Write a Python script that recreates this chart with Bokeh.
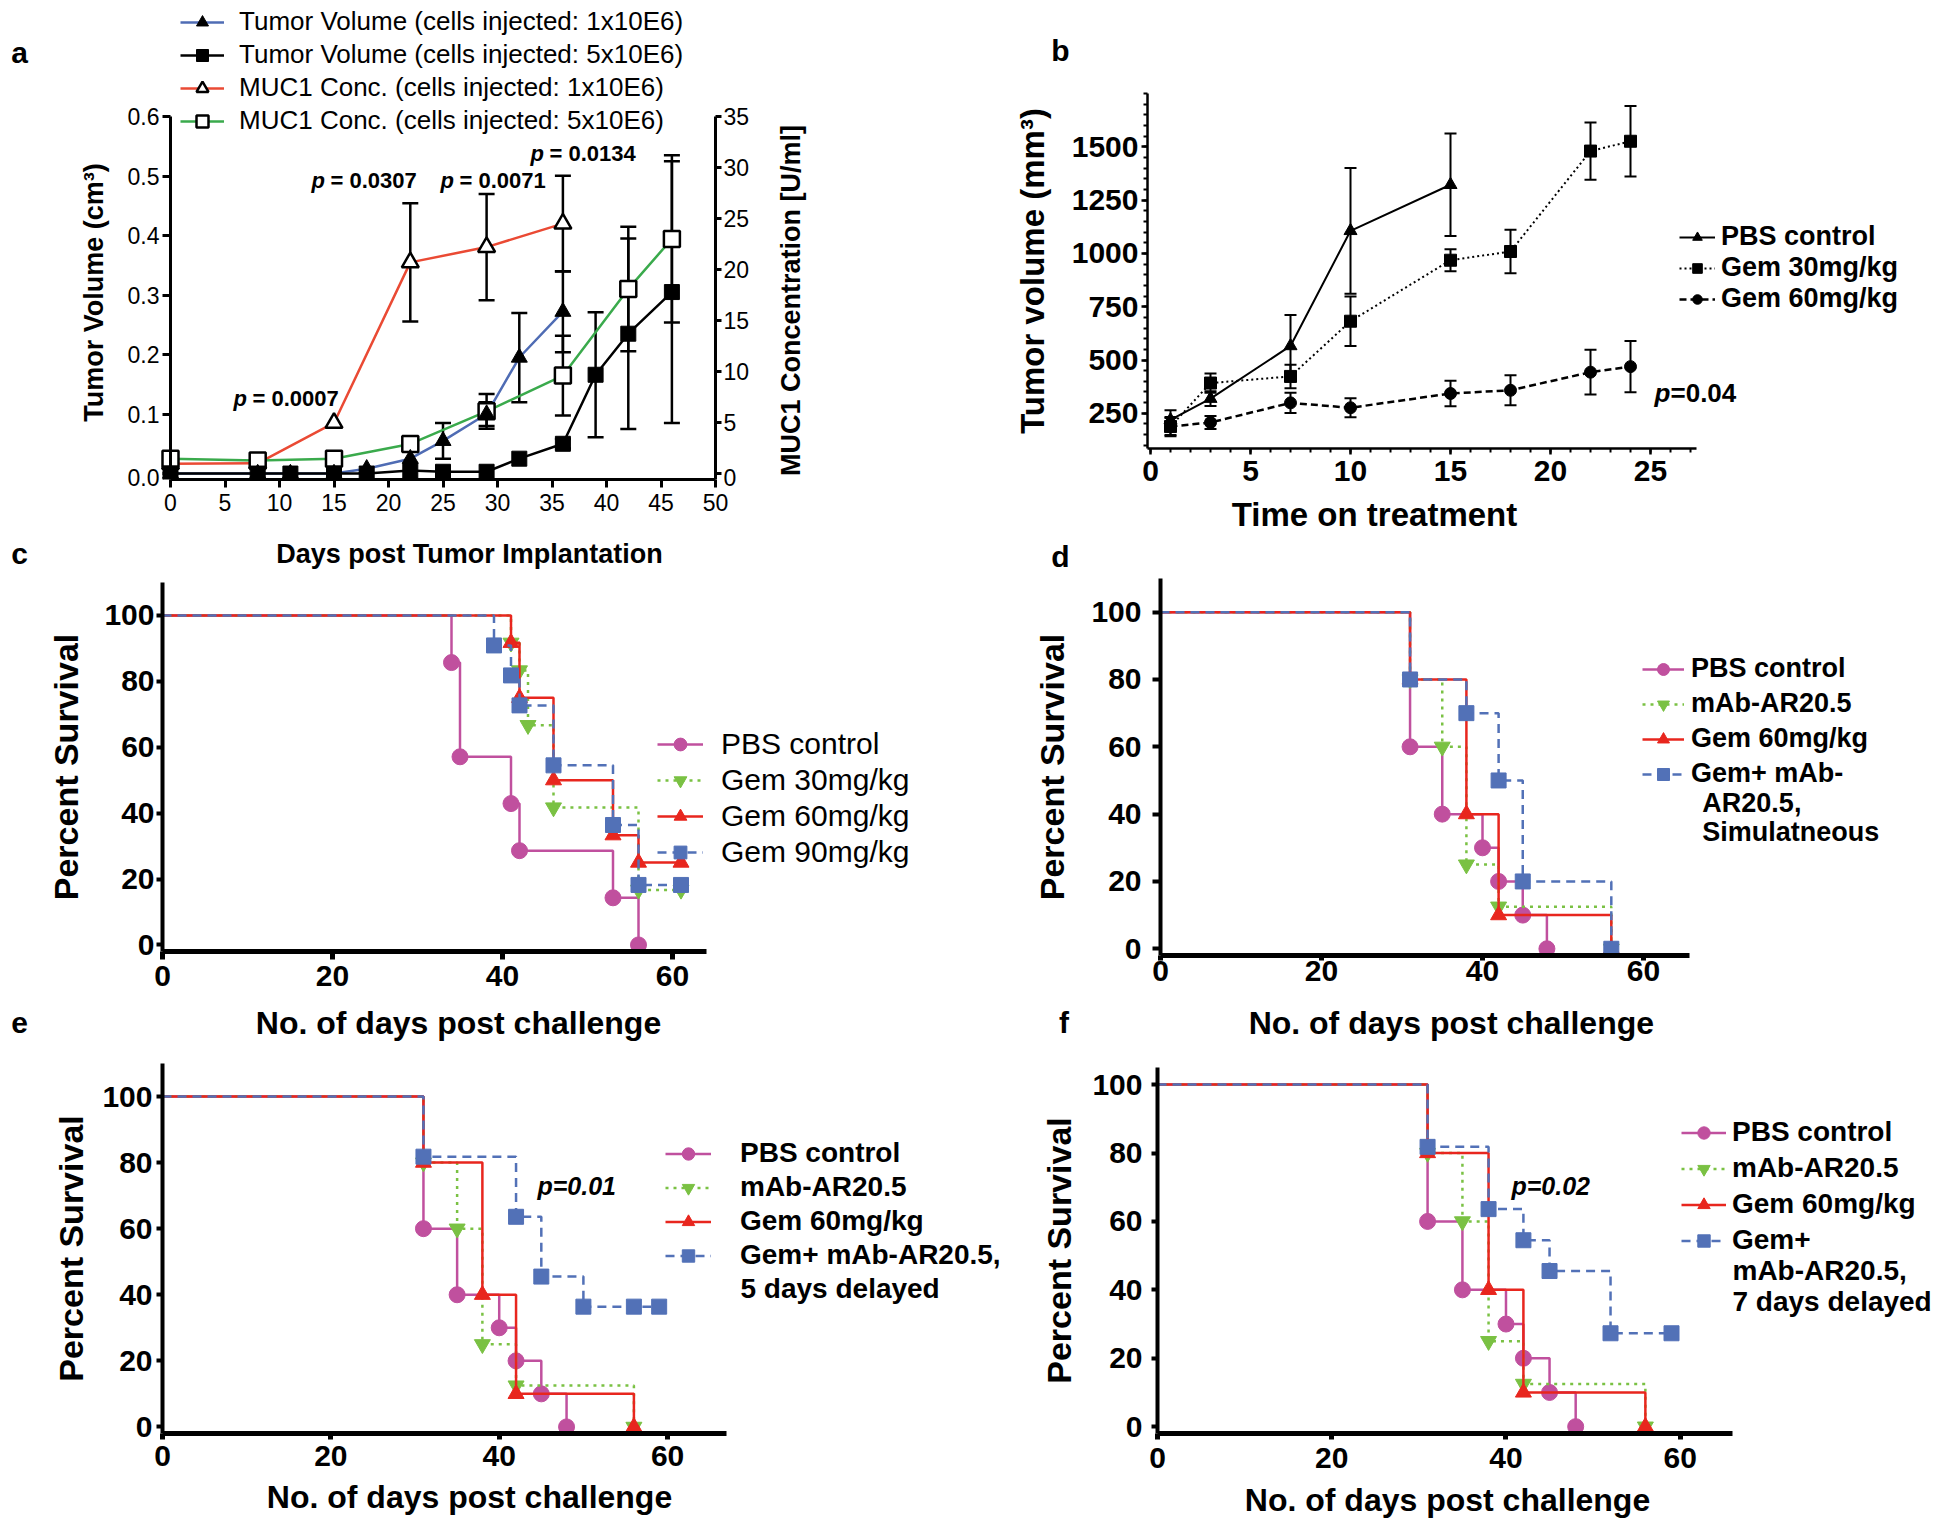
import math
from bokeh.plotting import figure
from bokeh.models import (Range1d, LinearAxis, FixedTicker, NumeralTickFormatter, Whisker,
                          TeeHead, ColumnDataSource, Legend, LegendItem, Label)
from bokeh.layouts import column, row
from bokeh.embed import file_html
from bokeh.resources import INLINE

SANS = "'Liberation Sans', Arial, sans-serif"

# ======================= DATA =======================
# ---- panel a (tumour volume in cm3, MUC1 in U/ml) ----
a_tv1_days = [0, 8, 11, 15, 18, 22, 25, 29, 32, 36]
a_tv1 = [0.0, 0.0, 0.0, 0.0, 0.008, 0.025, 0.055, 0.100, 0.195, 0.272]
a_tv1_err = [0, 0, 0, 0, 0, 0, 0.030, 0.020, 0.075, 0.068]
a_tv5_days = [0, 8, 11, 15, 18, 22, 25, 29, 32, 36, 39, 42, 46]
a_tv5 = [0.0, 0.0, 0.0, 0.0, 0.0, 0.005, 0.003, 0.003, 0.025, 0.050, 0.166, 0.235, 0.305]
a_tv5_err = [0, 0, 0, 0, 0, 0, 0, 0, 0, 0.008, 0.105, 0.160, 0.220]
a_muc1_days = [0, 8, 15, 22, 29, 36]
a_muc1 = [0.95, 1.0, 4.96, 20.7, 22.2, 24.5]
a_muc1_err = [0, 0, 0, 5.8, 5.2, 4.7]
a_muc5_days = [0, 8, 15, 22, 29, 36, 42, 46]
a_muc5 = [1.46, 1.28, 1.46, 2.9, 6.1, 9.6, 18.1, 23.0]
a_muc5_err = [0, 0, 0, 0.4, 1.7, 3.9, 6.1, 8.2]
a_xticks = [0, 5, 10, 15, 20, 25, 30, 35, 40, 45, 50]
a_yticks = [0.0, 0.1, 0.2, 0.3, 0.4, 0.5, 0.6]
a_rticks = [0, 5, 10, 15, 20, 25, 30, 35]
a_labels = ["Tumor Volume (cells injected: 1x10E6)", "Tumor Volume (cells injected: 5x10E6)",
            "MUC1 Conc. (cells injected: 1x10E6)", "MUC1 Conc. (cells injected: 5x10E6)"]

# ---- panel b (tumour volume mm3) ----
b_pbs_days = [1, 3, 7, 10, 15]
b_pbs = [219, 319, 566, 1106, 1322]
b_pbs_err = [45, 35, 145, 295, 240]
b_g30_days = [1, 3, 7, 10, 15, 18, 22, 24]
b_g30 = [188, 392, 423, 682, 968, 1009, 1480, 1526]
b_g30_err = [45, 45, 55, 116, 52, 102, 134, 165]
b_g60_days = [1, 3, 7, 10, 15, 18, 22, 24]
b_g60 = [188, 207, 299, 276, 343, 358, 443, 469]
b_g60_err = [40, 30, 47, 45, 60, 70, 105, 120]
b_xticks = [0, 5, 10, 15, 20, 25]
b_yticks = [250, 500, 750, 1000, 1250, 1500]
b_labels = ["PBS control", "Gem 30mg/kg", "Gem 60mg/kg"]

# ---- panel c (Kaplan-Meier, % survival) ----
c_pbs_days = [0, 34, 35, 41, 42, 53, 56]
c_pbs = [100, 85.7, 57.1, 42.9, 28.6, 14.3, 0]
c_g30_days = [0, 41, 42, 43, 46, 56, 61]
c_g30 = [100, 91.7, 83.3, 66.7, 41.7, 16.7, 16.7]
c_g60_days = [0, 41, 42, 46, 53, 56, 61]
c_g60 = [100, 91.7, 75.0, 50.0, 33.3, 25.0, 25.0]
c_g90_days = [0, 39, 41, 42, 46, 53, 56, 61]
c_g90 = [100, 90.9, 81.8, 72.7, 54.5, 36.4, 18.2, 18.2]
c_labels = ["PBS control", "Gem 30mg/kg", "Gem 60mg/kg", "Gem 90mg/kg"]

# ---- panel d ----
d_pbs_days = [0, 31, 35, 40, 42, 45, 48]
d_pbs = [100, 60, 40, 30, 20, 10, 0]
d_mab_days = [0, 31, 35, 38, 42, 56]
d_mab = [100, 80, 60, 25, 12.5, 0]
d_gem_days = [0, 31, 38, 42, 56]
d_gem = [100, 80, 40, 10, 0]
d_combo_days = [0, 31, 38, 42, 45, 56]
d_combo = [100, 80, 70, 50, 20, 0]

# ---- panel e ----
e_pbs_days = [0, 31, 35, 40, 42, 45, 48]
e_pbs = [100, 60, 40, 30, 20, 10, 0]
e_mab_days = [0, 31, 35, 38, 42, 56]
e_mab = [100, 80, 60, 25, 12.5, 0]
e_gem_days = [0, 31, 38, 42, 56]
e_gem = [100, 80, 40, 10, 0]
e_combo_days = [0, 31, 42, 45, 50, 56, 59]
e_combo = [100, 81.8, 63.6, 45.5, 36.4, 36.4, 36.4]

# ---- panel f ----
f_pbs_days = [0, 31, 35, 40, 42, 45, 48]
f_pbs = [100, 60, 40, 30, 20, 10, 0]
f_mab_days = [0, 31, 35, 38, 42, 56]
f_mab = [100, 80, 60, 25, 12.5, 0]
f_gem_days = [0, 31, 38, 42, 56]
f_gem = [100, 80, 40, 10, 0]
f_combo_days = [0, 31, 38, 42, 45, 52, 59]
f_combo = [100, 81.8, 63.6, 54.5, 45.5, 27.3, 27.3]

km_xticks = [0, 20, 40, 60]
km_yticks = [0, 20, 40, 60, 80, 100]

# ======================= STYLE =======================
BLUE_A, RED_A, GREEN_A = "#4f6cb4", "#ea4a34", "#3aaa4c"
MAG, GRN, RED, BLU = "#c0509e", "#7ac143", "#e8261e", "#5271b7"


def lin(p0, p1, v0, v1, p):
    return v0 + (p - p0) / (p1 - p0) * (v1 - v0)


class Panel:
    """Figure whose plotting frame spans (L..R, T..B) in page pixels; xmap / ymap give
    the page positions of the axis extents (X0, X1, x0, x1) / (Y0, Y1, y0, y1)."""

    def __init__(self, origin, size, frame, xmap, ymap):
        ox, oy = origin
        w, h = size
        L, R, T, B = frame
        X0, X1, x0, x1 = xmap
        Y0, Y1, y0, y1 = ymap
        self.frame = frame
        self.xr = (lin(X0, X1, x0, x1, L), lin(X0, X1, x0, x1, R))
        self.yr = (lin(Y0, Y1, y0, y1, B), lin(Y0, Y1, y0, y1, T))
        p = figure(width=w, height=h, x_range=Range1d(*self.xr), y_range=Range1d(*self.yr),
                   output_backend="svg", toolbar_location=None,
                   min_border_left=L - ox, min_border_right=ox + w - R,
                   min_border_top=T - oy, min_border_bottom=oy + h - B)
        p.frame_align = False
        p.title.visible = False
        p.xgrid.visible = False
        p.ygrid.visible = False
        p.outline_line_color = None
        p.background_fill_color = "white"
        p.border_fill_color = "white"
        p.xaxis.bounds = (x0, x1)
        p.yaxis.bounds = (y0, y1)
        self.p = p

    def data(self, px, py):
        L, R, T, B = self.frame
        return (lin(L, R, self.xr[0], self.xr[1], px), lin(B, T, self.yr[0], self.yr[1], py))

    def text(self, px, py, s, size, style="bold", align="left", place="center", angle=0.0):
        x, y = self.data(px, py)
        lab = Label(x=x, y=y, text=s, text_font=SANS, text_font_size=f"{size}px",
                    text_font_style=style, text_align=align, text_baseline="middle",
                    text_color="black", angle=angle)
        if place == "center":
            self.p.add_layout(lab)
        else:
            self.p.add_layout(lab, place)

    def legend(self, entries, icon_left, bottom, glyph_w, standoff, size, style, spacing,
               glyph_h=28):
        L, R, T, B = self.frame
        items = [LegendItem(label=t, renderers=r) for t, r in entries]
        lg = Legend(items=items, location=(icon_left - L, B - bottom), orientation="vertical",
                    padding=0, margin=0, spacing=spacing, glyph_width=glyph_w,
                    glyph_height=glyph_h, label_standoff=standoff, label_height=10,
                    label_text_font=SANS, label_text_font_size=f"{size}px",
                    label_text_font_style=style, label_text_color="black",
                    border_line_color=None, background_fill_alpha=0)
        self.p.add_layout(lg)


def style_axis(ax, lw, tick_out, standoff, tick_size, tick_style, lab_size=32, lab_standoff=10):
    ax.axis_line_width = lw
    ax.axis_line_color = "black"
    ax.major_tick_line_width = lw
    ax.major_tick_line_color = "black"
    ax.major_tick_out = tick_out
    ax.major_tick_in = 0
    ax.minor_tick_line_color = None
    ax.major_label_standoff = standoff
    ax.major_label_text_font = SANS
    ax.major_label_text_font_size = f"{tick_size}px"
    ax.major_label_text_font_style = tick_style
    ax.major_label_text_color = "black"
    ax.axis_label_text_font = SANS
    ax.axis_label_text_font_size = f"{lab_size}px"
    ax.axis_label_text_font_style = "bold"
    ax.axis_label_text_color = "black"
    ax.axis_label_standoff = lab_standoff


def add_err(p, xs, ys, es, width=2.5, head=16, range_name=None):
    pts = [(x, y - e, y + e) for x, y, e in zip(xs, ys, es) if e > 0]
    src = ColumnDataSource(dict(x=[t[0] for t in pts], lo=[t[1] for t in pts],
                                hi=[t[2] for t in pts]))
    w = Whisker(source=src, base="x", lower="lo", upper="hi", dimension="height",
                line_color="black", line_width=width,
                upper_head=TeeHead(size=head, line_width=width, line_color="black"),
                lower_head=TeeHead(size=head, line_width=width, line_color="black"))
    if range_name:
        w.y_range_name = range_name
    p.add_layout(w)


def km(p, days, surv, color, dash, marker, size=16, lw=2.5):
    l = p.step(days, surv, mode="after", line_color=color, line_width=lw, line_dash=dash)
    m = p.scatter(days[1:], surv[1:], marker=marker, size=size, fill_color=color,
                  line_color=color)
    return [l, m]


# ======================= PANEL a =======================
A = Panel((0, 0), (1010, 572), (60, 890, 0, 479), (170, 715, 0.0, 50.0),
          (479, 116, -0.01, 0.6))
pa = A.p
style_axis(pa.xaxis[0], 3, 8, 6, 23, "normal")
style_axis(pa.yaxis[0], 3, 8, 3, 23, "normal")
pa.yaxis.fixed_location = 0.0
pa.xaxis.ticker = FixedTicker(ticks=a_xticks)
pa.yaxis.ticker = FixedTicker(ticks=a_yticks)
pa.yaxis.formatter = NumeralTickFormatter(format="0.0")
pa.yaxis.major_label_overrides = {0: ""}
muc_scale = 35 / 0.6
pa.extra_y_ranges = {"muc": Range1d(A.yr[0] * muc_scale, A.yr[1] * muc_scale)}
ra = LinearAxis(y_range_name="muc", ticker=FixedTicker(ticks=a_rticks), fixed_location=50,
                bounds=(-0.01 * muc_scale, 35))
style_axis(ra, 3, 6, 2, 23, "normal")
ra.major_label_overrides = {0: ""}
pa.add_layout(ra, "right")
# bottom tick labels of the two y axes (kept out of the frame clip)
A.text(159, 477, "0.0", 23, "normal", "right", place="right")
A.text(723, 477, "0", 23, "normal", "left", place="right")
A.text(93, 292, "Tumor Volume (cm³)", 27, "bold", "center", angle=math.pi / 2)
A.text(790, 300, "MUC1 Concentration [U/ml]", 27, "bold", "center", angle=math.pi / 2)
A.text(469, 553, "Days post Tumor Implantation", 27, "bold", "center", place="below")

add_err(pa, a_muc1_days, a_muc1, a_muc1_err, range_name="muc")
add_err(pa, a_muc5_days, a_muc5, a_muc5_err, range_name="muc")
add_err(pa, a_tv1_days, a_tv1, a_tv1_err)
add_err(pa, a_tv5_days, a_tv5, a_tv5_err)

r1l = pa.line(a_muc1_days, a_muc1, line_color=RED_A, line_width=2.5, y_range_name="muc")
r2l = pa.line(a_muc5_days, a_muc5, line_color=GREEN_A, line_width=2.5, y_range_name="muc")
r3l = pa.line(a_tv1_days, a_tv1, line_color=BLUE_A, line_width=2.5)
r4l = pa.line(a_tv5_days, a_tv5, line_color="black", line_width=2.5)
r1m = pa.scatter(a_muc1_days, a_muc1, marker="triangle", size=17, fill_color="white",
                 line_color="black", line_width=2.5, y_range_name="muc")
r2m = pa.scatter(a_muc5_days, a_muc5, marker="square", size=16, fill_color="white",
                 line_color="black", line_width=2.5, y_range_name="muc")
r3m = pa.scatter(a_tv1_days, a_tv1, marker="triangle", size=16, fill_color="black",
                 line_color="black")
r4m = pa.scatter(a_tv5_days, a_tv5, marker="square", size=15, fill_color="black",
                 line_color="black")
A.legend([(a_labels[0], [r3l, r3m]), (a_labels[1], [r4l, r4m]),
          (a_labels[2], [r1l, r1m]), (a_labels[3], [r2l, r2m])],
         180, 136, 44, 15, 26, "normal", 2, glyph_h=30)

for px, py, s in [(233, 398, "= 0.0007"), (311, 180, "= 0.0307"), (440, 180, "= 0.0071"),
                  (530, 153, "= 0.0134")]:
    A.text(px, py, "p", 22, "bold italic")
    A.text(px + 19, py, s, 22, "bold")
A.text(19, 52, "a", 30, "bold", "center", place="right")
A.text(19, 553, "c", 30, "bold", "center", place="right")

# ======================= PANEL b =======================
Bp = Panel((1010, 0), (940, 572), (1147, 1914, 93, 448), (1147, 1696, -0.15, 27.3),
           (448, 93, 85, 1750))
pb = Bp.p
style_axis(pb.xaxis[0], 2.5, 6, 6, 30, "bold")
style_axis(pb.yaxis[0], 2.5, 6, 3, 30, "bold", 33, 18)
pb.xaxis.ticker = FixedTicker(ticks=b_xticks, minor_ticks=list(range(0, 28)))
pb.yaxis.ticker = FixedTicker(ticks=b_yticks, minor_ticks=list(range(100, 1751, 50)))
for ax in (pb.xaxis[0], pb.yaxis[0]):
    ax.minor_tick_line_color = "black"
    ax.minor_tick_line_width = 2
    ax.minor_tick_out = 4
    ax.minor_tick_in = 0
pb.yaxis.axis_label = "Tumor volume (mm³)"
Bp.text(1374, 514, "Time on treatment", 33, "bold", "center", place="below")

add_err(pb, b_pbs_days, b_pbs, b_pbs_err, width=2, head=12)
add_err(pb, b_g30_days, b_g30, b_g30_err, width=2, head=12)
add_err(pb, b_g60_days, b_g60, b_g60_err, width=2, head=12)
bl1 = pb.line(b_pbs_days, b_pbs, line_color="black", line_width=2)
bl2 = pb.line(b_g30_days, b_g30, line_color="black", line_width=2, line_dash="2 3")
bl3 = pb.line(b_g60_days, b_g60, line_color="black", line_width=2.5, line_dash="7 4")
bm1 = pb.scatter(b_pbs_days, b_pbs, marker="triangle", size=13, color="black")
bm2 = pb.scatter(b_g30_days, b_g30, marker="square", size=12, color="black")
bm3 = pb.scatter(b_g60_days, b_g60, marker="circle", size=12, color="black")
Bp.legend([(b_labels[0], [bl1, bm1]), (b_labels[1], [bl2, bm2]), (b_labels[2], [bl3, bm3])],
          1679, 314, 36, 6, 27, "bold", 0, glyph_h=24)
Bp.text(1654, 392, "p", 26, "bold italic")
Bp.text(1670, 392, "=0.04", 26, "bold")
Bp.text(1060, 50, "b", 30, "bold", "center", place="right")
Bp.text(1060, 556, "d", 30, "bold", "center", place="right")


def km_axes(P, left_out, left_so, left_lab_so, bot_out, bot_so, xlab_pos):
    p = P.p
    style_axis(p.xaxis[0], 5, bot_out, bot_so, 30, "bold")
    style_axis(p.yaxis[0], 4, left_out, left_so, 30, "bold", 34, left_lab_so)
    p.xaxis.ticker = FixedTicker(ticks=km_xticks)
    p.yaxis.ticker = FixedTicker(ticks=km_yticks)
    p.yaxis.axis_label = "Percent Survival"
    P.text(xlab_pos[0], xlab_pos[1], "No. of days post challenge", 32, "bold", "center",
           place="below")


# ======================= PANEL c =======================
C = Panel((0, 572), (1030, 470), (162, 1030, 582, 951), (162, 706, 0, 64), (951, 582, -2, 110))
pc = C.p
km_axes(C, 6, 2, 16, 8, 6, (458, 1022))
cr1 = km(pc, c_pbs_days, c_pbs, MAG, "solid", "circle")
cr2 = km(pc, c_g30_days, c_g30, GRN, "3 5", "inverted_triangle")
cr3 = km(pc, c_g60_days, c_g60, RED, "solid", "triangle")
cr4 = km(pc, c_g90_days, c_g90, BLU, "9 6", "square", size=15)
C.legend(list(zip(c_labels, [cr1, cr2, cr3, cr4])), 657, 869, 46, 18, 30, "normal", 2,
         glyph_h=32)
C.text(19, 1022, "e", 30, "bold", "center", place="left")

# ======================= PANEL d =======================
D = Panel((1030, 572), (920, 470), (1157, 1914, 578, 955), (1157, 1688, 0, 65.7),
          (955, 578, -2, 110))
pd_ = D.p
km_axes(D, 8, 11, 17, 5, 0, (1449, 1022))
dr1 = km(pd_, d_pbs_days, d_pbs, MAG, "solid", "circle")
dr2 = km(pd_, d_mab_days, d_mab, GRN, "3 5", "inverted_triangle")
dr3 = km(pd_, d_gem_days, d_gem, RED, "solid", "triangle")
dr4 = km(pd_, d_combo_days, d_combo, BLU, "9 6", "square", size=15)
D.legend([("PBS control", dr1), ("mAb-AR20.5", dr2), ("Gem 60mg/kg", dr3),
          ("Gem+ mAb-", dr4)], 1639, 789, 42, 7, 27, "bold", 4, glyph_h=30)
D.text(1701, 802, "AR20.5,", 27, "bold")
D.text(1701, 831, "Simulatneous", 27, "bold")
D.text(1060, 1022, "f", 30, "bold", "center", place="right")

# ======================= PANEL e =======================
E = Panel((0, 1042), (1030, 498), (162, 1030, 1063, 1433), (162, 726, 0, 67),
          (1433, 1063, -2, 110))
pe = E.p
km_axes(E, 6, 4, 9, 6, 6, (469, 1496))
er1 = km(pe, e_pbs_days, e_pbs, MAG, "solid", "circle")
er2 = km(pe, e_mab_days, e_mab, GRN, "3 5", "inverted_triangle")
er3 = km(pe, e_gem_days, e_gem, RED, "solid", "triangle")
er4 = km(pe, e_combo_days, e_combo, BLU, "9 6", "square", size=15)
E.legend([("PBS control", er1), ("mAb-AR20.5", er2), ("Gem 60mg/kg", er3),
          ("Gem+ mAb-AR20.5,", er4)], 665, 1271, 46, 29, 28, "bold", 2, glyph_h=31)
E.text(740, 1288, "5 days delayed", 28, "bold")
E.text(537, 1185, "p=0.01", 25, "bold italic")

# ======================= PANEL f =======================
F = Panel((1030, 1042), (920, 498), (1157, 1950, 1067, 1433), (1157, 1732, 0, 66),
          (1433, 1067, -2, 105))
pf = F.p
km_axes(F, 6, 9, 11, 6, 8, (1447, 1499))
fr1 = km(pf, f_pbs_days, f_pbs, MAG, "solid", "circle")
fr2 = km(pf, f_mab_days, f_mab, GRN, "3 5", "inverted_triangle")
fr3 = km(pf, f_gem_days, f_gem, RED, "solid", "triangle")
fr4 = km(pf, f_combo_days, f_combo, BLU, "9 6", "square", size=15)
F.legend([("PBS control", fr1), ("mAb-AR20.5", fr2), ("Gem 60mg/kg", fr3),
          ("Gem+", fr4)], 1681, 1256, 45, 6, 28, "bold", 4, glyph_h=31)
F.text(1732, 1270, "mAb-AR20.5,", 28, "bold")
F.text(1732, 1301, "7 days delayed", 28, "bold")
F.text(1511, 1185, "p=0.02", 25, "bold italic")

layout = column(row(pa, pb), row(pc, pd_), row(pe, pf))
open("out.html", "w").write(file_html(layout, INLINE))
